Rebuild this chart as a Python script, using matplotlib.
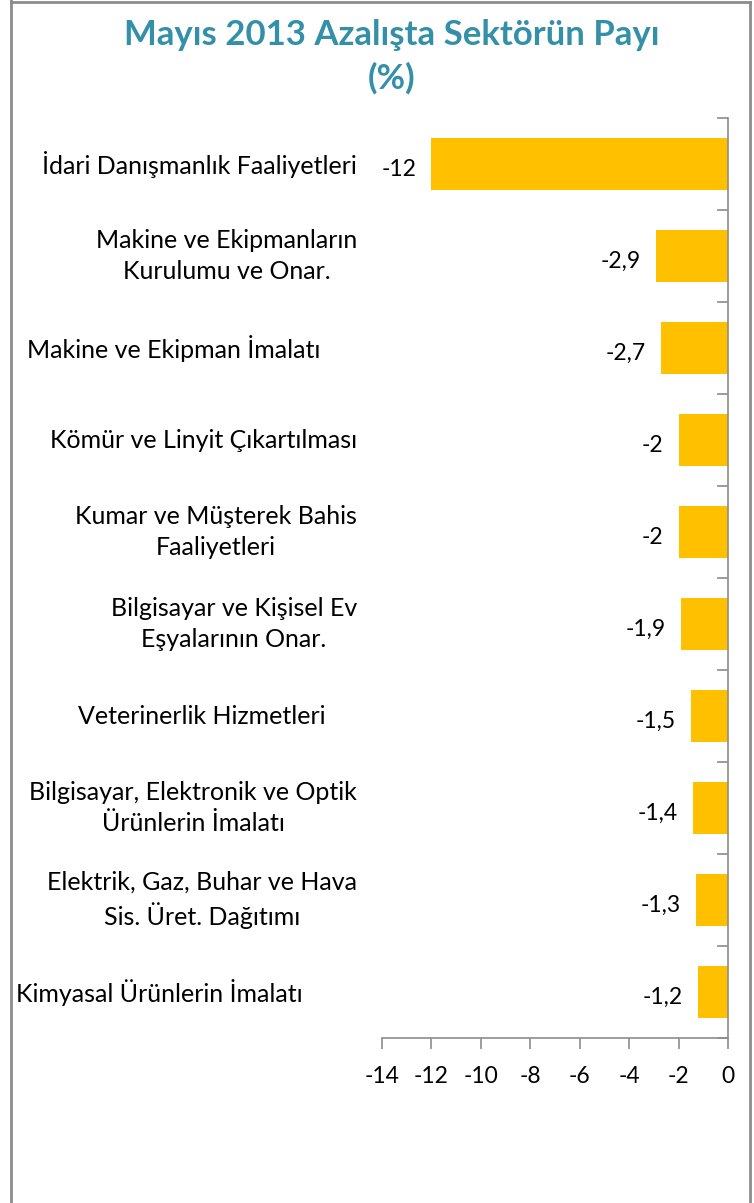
import matplotlib.pyplot as plt
import matplotlib.transforms as mtransforms
from matplotlib.lines import Line2D

plt.rcParams['font.family'] = ['Lato', 'DejaVu Sans']

# data, top to bottom as in the chart
sectors = [
    'İdari Danışmanlık Faaliyetleri',
    'Makine ve Ekipmanların\nKurulumu ve Onar.',
    'Makine ve Ekipman İmalatı',
    'Kömür ve Linyit Çıkartılması',
    'Kumar ve Müşterek Bahis\nFaaliyetleri',
    'Bilgisayar ve Kişisel Ev\nEşyalarının Onar.',
    'Veterinerlik Hizmetleri',
    'Bilgisayar, Elektronik ve Optik\nÜrünlerin İmalatı',
    'Elektrik, Gaz, Buhar ve Hava\nSis. Üret. Dağıtımı',
    'Kimyasal Ürünlerin İmalatı',
]
shares = [-12, -2.9, -2.7, -2, -2, -1.9, -1.5, -1.4, -1.3, -1.2]
xticks = [-14, -12, -10, -8, -6, -4, -2, 0]

# right edge (px) of each category label, like excel placed them
label_right = [357, 357, 320, 357, 357, 357, 326, 357, 357, 303]

title_col = '#3390A8'
bar_col = '#FFC000'
axis_col = '#8C8C8C'
fs = 16.5
fs_cat = 18

fig = plt.figure(figsize=(7.54, 12.03), dpi=100)
ax = fig.add_axes([382 / 754, 1 - 1038 / 1203, 346 / 754, 920 / 1203])

n = len(shares)
ypos = list(range(n))
ax.barh(ypos, shares, height=0.57, color=bar_col)
ax.set_ylim(n - 0.5, -0.5)
ax.set_xlim(-14, 0)

# spines
for s in ['top', 'left']:
    ax.spines[s].set_visible(False)
ax.spines['right'].set_color(axis_col)
ax.spines['bottom'].set_color(axis_col)
ax.spines['right'].set_linewidth(1.2)
ax.spines['bottom'].set_linewidth(1.2)

ax.set_xticks(xticks)
ax.set_xticklabels([str(v) for v in xticks])
ax.tick_params(axis='x', direction='out', length=8, color=axis_col, width=1.2,
               labelsize=fs, pad=12)

ax.yaxis.tick_right()
ax.set_yticks([i - 0.5 for i in range(n + 1)])
ax.set_yticklabels([])
ax.tick_params(axis='y', direction='in', length=8, color=axis_col, width=1.2)

# value labels
for y, v in zip(ypos, shares):
    txt = ('%g' % v).replace('.', ',')
    ax.annotate(txt, (v, y), xytext=(-11, -4), textcoords='offset points',
                ha='right', va='center', fontsize=fs)

# category labels on the left
tr = mtransforms.blended_transform_factory(fig.transFigure, ax.transData)
for y, lab, xr in zip(ypos, sectors, label_right):
    ax.text(xr / 754, y, lab, transform=tr, ha='right', va='center',
            multialignment='center', fontsize=fs_cat, linespacing=1.4)

# title
fig.text(392 / 754, 1 - 35 / 1203, 'Mayıs 2013 Azalışta Sektörün Payı',
         ha='center', va='center', fontsize=25, fontweight='bold', color=title_col)
fig.text(392 / 754, 1 - 78 / 1203, '(%)',
         ha='center', va='center', fontsize=25, fontweight='bold', color=title_col)

# outer frame (open at the bottom)
W, H = 754, 1203
for (x0, y0), (x1, y1) in [((11, 0), (11, 1203)), ((11, 2), (750, 2)), ((750, 2), (750, 1203))]:
    fig.add_artist(Line2D([x0 / W, x1 / W], [1 - y0 / H, 1 - y1 / H],
                          transform=fig.transFigure, color=axis_col, lw=2))

fig.savefig('out.png', dpi=100)
